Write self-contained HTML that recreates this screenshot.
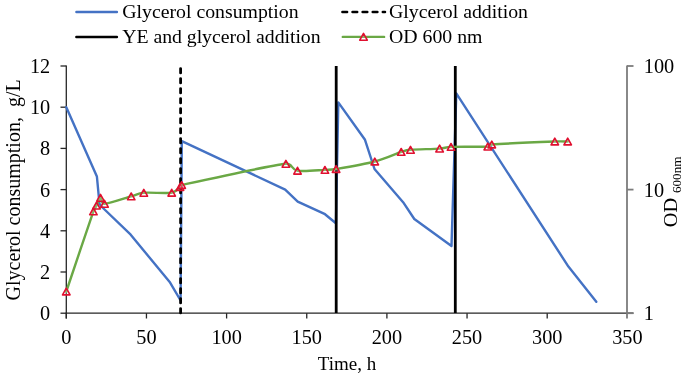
<!DOCTYPE html>
<html><head><meta charset="utf-8"><style>
html,body{margin:0;padding:0;background:#fff;}
svg{display:block;will-change:transform;}
text{font-family:"Liberation Serif", serif;}
</style></head><body>
<svg width="685" height="374" viewBox="0 0 685 374">
<g stroke="#262626" stroke-width="1.3" fill="none">
<line x1="66.3" y1="65.5" x2="66.3" y2="318.5"/>
<line x1="60.5" y1="313.20" x2="66.3" y2="313.20"/>
<line x1="60.5" y1="272.00" x2="66.3" y2="272.00"/>
<line x1="60.5" y1="230.80" x2="66.3" y2="230.80"/>
<line x1="60.5" y1="189.60" x2="66.3" y2="189.60"/>
<line x1="60.5" y1="148.40" x2="66.3" y2="148.40"/>
<line x1="60.5" y1="107.20" x2="66.3" y2="107.20"/>
<line x1="60.5" y1="66.00" x2="66.3" y2="66.00"/>
<line x1="65.6" y1="313.2" x2="633.5" y2="313.2"/>
<line x1="66.30" y1="313.2" x2="66.30" y2="318.5"/>
<line x1="146.45" y1="313.2" x2="146.45" y2="318.5"/>
<line x1="226.60" y1="313.2" x2="226.60" y2="318.5"/>
<line x1="306.75" y1="313.2" x2="306.75" y2="318.5"/>
<line x1="386.90" y1="313.2" x2="386.90" y2="318.5"/>
<line x1="467.05" y1="313.2" x2="467.05" y2="318.5"/>
<line x1="547.20" y1="313.2" x2="547.20" y2="318.5"/>
</g>
<g stroke="#7c7c7c" stroke-width="1.8" fill="none">
<line x1="627" y1="65.5" x2="627" y2="318.5"/>
<line x1="627" y1="313.20" x2="633.5" y2="313.20"/>
<line x1="627" y1="189.60" x2="633.5" y2="189.60"/>
<line x1="627" y1="66.00" x2="633.5" y2="66.00"/>
</g>
<g font-family="Liberation Serif" font-size="20.3" fill="#000">
<text x="50.2" y="320.20" text-anchor="end">0</text>
<text x="50.2" y="279.00" text-anchor="end">2</text>
<text x="50.2" y="237.80" text-anchor="end">4</text>
<text x="50.2" y="196.60" text-anchor="end">6</text>
<text x="50.2" y="155.40" text-anchor="end">8</text>
<text x="50.2" y="114.20" text-anchor="end">10</text>
<text x="50.2" y="73.00" text-anchor="end">12</text>
<text x="66.30" y="343.5" text-anchor="middle">0</text>
<text x="146.45" y="343.5" text-anchor="middle">50</text>
<text x="226.60" y="343.5" text-anchor="middle">100</text>
<text x="306.75" y="343.5" text-anchor="middle">150</text>
<text x="386.90" y="343.5" text-anchor="middle">200</text>
<text x="467.05" y="343.5" text-anchor="middle">250</text>
<text x="547.20" y="343.5" text-anchor="middle">300</text>
<text x="627.35" y="343.5" text-anchor="middle">350</text>
<text x="643.8" y="320.20">1</text>
<text x="643.8" y="196.60">10</text>
<text x="643.8" y="73.00">100</text>
</g>
<text font-family="Liberation Serif" font-size="19" x="347" y="370" text-anchor="middle">Time, h</text>
<text font-family="Liberation Serif" font-size="20" transform="translate(20.3,189.85) rotate(-90)" text-anchor="middle" xml:space="preserve" style="white-space:pre">Glycerol consumption,  g/L</text>
<text font-family="Liberation Serif" font-size="19.5" transform="translate(677,227.3) rotate(-90)" textLength="29.4" lengthAdjust="spacingAndGlyphs">OD</text>
<text font-family="Liberation Serif" font-size="12.7" transform="translate(680.8,193.0) rotate(-90)" textLength="36.4" lengthAdjust="spacingAndGlyphs">600nm</text>
<polyline points="66.30,107.20 96.90,176.50 99.50,204.00 103.00,208.00 130.70,234.70 170.10,282.60 180.60,300.50 181.80,141.20 285.20,189.60 297.70,201.60 325.00,214.20 335.90,223.20 338.30,102.40 365.00,139.80 374.50,169.00 403.10,202.20 414.30,219.00 451.50,246.00 456.30,93.40 568.40,266.60 596.30,301.70" fill="none" stroke="#4472C4" stroke-width="2.4" stroke-linejoin="round" stroke-linecap="round"/>
<line x1="180.6" y1="68.6" x2="180.6" y2="313" stroke="#000" stroke-width="2.8" stroke-dasharray="4.3 5.7" stroke-linecap="round"/>
<line x1="336.2" y1="66" x2="336.2" y2="313" stroke="#000" stroke-width="2.8"/>
<line x1="455.3" y1="66" x2="455.3" y2="313" stroke="#000" stroke-width="2.8"/>
<path d="M66.30,291.50 C70.82,278.15 88.37,225.72 93.40,211.40 C94.49,208.30 95.32,207.87 96.50,205.60 C97.68,203.33 99.17,198.10 100.50,197.80 C101.83,197.50 100.90,203.96 104.50,203.80 C109.62,203.57 124.65,198.23 131.20,196.40 C137.51,194.63 137.28,193.40 143.80,192.80 C150.55,192.18 165.67,193.67 171.70,192.70 C176.67,191.90 178.33,188.28 180.00,187.00 C181.04,186.20 180.42,185.28 181.70,185.00 C199.35,181.13 266.60,166.18 285.90,163.80 C292.60,162.97 291.00,169.68 297.50,170.70 C304.00,171.72 318.47,170.18 324.90,169.90 C330.51,169.65 330.56,169.93 336.10,169.00 C344.42,167.60 363.95,164.35 374.80,161.50 C385.65,158.65 395.25,153.85 401.20,151.90 C405.73,150.42 405.75,150.21 410.50,149.80 C416.90,149.25 432.85,149.08 439.60,148.60 C445.35,148.19 445.24,147.14 451.00,146.90 C459.03,146.57 481.00,147.00 487.80,146.60 C490.05,146.47 489.55,144.67 491.80,144.50 C502.97,143.65 542.15,142.00 554.80,141.50 C561.24,141.25 565.55,141.50 567.70,141.50" fill="none" stroke="#6AA845" stroke-width="2.4" stroke-linejoin="round" stroke-linecap="round"/>
<path d="M66.30,288.10 L70.05,294.90 L62.55,294.90 Z" fill="rgba(255,255,255,0.2)" stroke="#E0102F" stroke-width="1.6" stroke-linejoin="round"/>
<path d="M93.40,208.00 L97.15,214.80 L89.65,214.80 Z" fill="rgba(255,255,255,0.2)" stroke="#E0102F" stroke-width="1.6" stroke-linejoin="round"/>
<path d="M96.50,202.20 L100.25,209.00 L92.75,209.00 Z" fill="rgba(255,255,255,0.2)" stroke="#E0102F" stroke-width="1.6" stroke-linejoin="round"/>
<path d="M100.50,194.40 L104.25,201.20 L96.75,201.20 Z" fill="rgba(255,255,255,0.2)" stroke="#E0102F" stroke-width="1.6" stroke-linejoin="round"/>
<path d="M104.50,200.40 L108.25,207.20 L100.75,207.20 Z" fill="rgba(255,255,255,0.2)" stroke="#E0102F" stroke-width="1.6" stroke-linejoin="round"/>
<path d="M131.20,193.00 L134.95,199.80 L127.45,199.80 Z" fill="rgba(255,255,255,0.2)" stroke="#E0102F" stroke-width="1.6" stroke-linejoin="round"/>
<path d="M143.80,189.40 L147.55,196.20 L140.05,196.20 Z" fill="rgba(255,255,255,0.2)" stroke="#E0102F" stroke-width="1.6" stroke-linejoin="round"/>
<path d="M171.70,189.30 L175.45,196.10 L167.95,196.10 Z" fill="rgba(255,255,255,0.2)" stroke="#E0102F" stroke-width="1.6" stroke-linejoin="round"/>
<path d="M180.00,183.60 L183.75,190.40 L176.25,190.40 Z" fill="rgba(255,255,255,0.2)" stroke="#E0102F" stroke-width="1.6" stroke-linejoin="round"/>
<path d="M181.70,181.60 L185.45,188.40 L177.95,188.40 Z" fill="rgba(255,255,255,0.2)" stroke="#E0102F" stroke-width="1.6" stroke-linejoin="round"/>
<path d="M285.90,160.40 L289.65,167.20 L282.15,167.20 Z" fill="rgba(255,255,255,0.2)" stroke="#E0102F" stroke-width="1.6" stroke-linejoin="round"/>
<path d="M297.50,167.30 L301.25,174.10 L293.75,174.10 Z" fill="rgba(255,255,255,0.2)" stroke="#E0102F" stroke-width="1.6" stroke-linejoin="round"/>
<path d="M324.90,166.50 L328.65,173.30 L321.15,173.30 Z" fill="rgba(255,255,255,0.2)" stroke="#E0102F" stroke-width="1.6" stroke-linejoin="round"/>
<path d="M336.10,165.60 L339.85,172.40 L332.35,172.40 Z" fill="rgba(255,255,255,0.2)" stroke="#E0102F" stroke-width="1.6" stroke-linejoin="round"/>
<path d="M374.80,158.10 L378.55,164.90 L371.05,164.90 Z" fill="rgba(255,255,255,0.2)" stroke="#E0102F" stroke-width="1.6" stroke-linejoin="round"/>
<path d="M401.20,148.50 L404.95,155.30 L397.45,155.30 Z" fill="rgba(255,255,255,0.2)" stroke="#E0102F" stroke-width="1.6" stroke-linejoin="round"/>
<path d="M410.50,146.40 L414.25,153.20 L406.75,153.20 Z" fill="rgba(255,255,255,0.2)" stroke="#E0102F" stroke-width="1.6" stroke-linejoin="round"/>
<path d="M439.60,145.20 L443.35,152.00 L435.85,152.00 Z" fill="rgba(255,255,255,0.2)" stroke="#E0102F" stroke-width="1.6" stroke-linejoin="round"/>
<path d="M451.00,143.50 L454.75,150.30 L447.25,150.30 Z" fill="rgba(255,255,255,0.2)" stroke="#E0102F" stroke-width="1.6" stroke-linejoin="round"/>
<path d="M487.80,143.20 L491.55,150.00 L484.05,150.00 Z" fill="rgba(255,255,255,0.2)" stroke="#E0102F" stroke-width="1.6" stroke-linejoin="round"/>
<path d="M491.80,141.10 L495.55,147.90 L488.05,147.90 Z" fill="rgba(255,255,255,0.2)" stroke="#E0102F" stroke-width="1.6" stroke-linejoin="round"/>
<path d="M554.80,138.10 L558.55,144.90 L551.05,144.90 Z" fill="rgba(255,255,255,0.2)" stroke="#E0102F" stroke-width="1.6" stroke-linejoin="round"/>
<path d="M567.70,138.10 L571.45,144.90 L563.95,144.90 Z" fill="rgba(255,255,255,0.2)" stroke="#E0102F" stroke-width="1.6" stroke-linejoin="round"/>
<line x1="76.4" y1="12.0" x2="116.9" y2="12.0" stroke="#4472C4" stroke-width="2.4" stroke-linecap="round"/>
<line x1="76.4" y1="36.9" x2="116.9" y2="36.9" stroke="#000" stroke-width="2.5" stroke-linecap="round"/>
<line x1="342.4" y1="11.9" x2="385" y2="11.9" stroke="#000" stroke-width="2.5" stroke-dasharray="4.7 5.4" stroke-linecap="round"/>
<line x1="342.8" y1="36.9" x2="384.1" y2="36.9" stroke="#6AA845" stroke-width="2.4" stroke-linecap="round"/>
<path d="M363.50,33.40 L367.25,40.20 L359.75,40.20 Z" fill="rgba(255,255,255,0.2)" stroke="#E0102F" stroke-width="1.6" stroke-linejoin="round"/>
<g font-family="Liberation Serif" font-size="19.8" fill="#000">
<text x="122.3" y="18.0">Glycerol consumption</text>
<text x="122.3" y="43.0" textLength="198.3">YE and glycerol addition</text>
<text x="389" y="18.0">Glycerol addition</text>
<text x="389" y="43.0">OD 600 nm</text>
</g>
</svg>
</body></html>
